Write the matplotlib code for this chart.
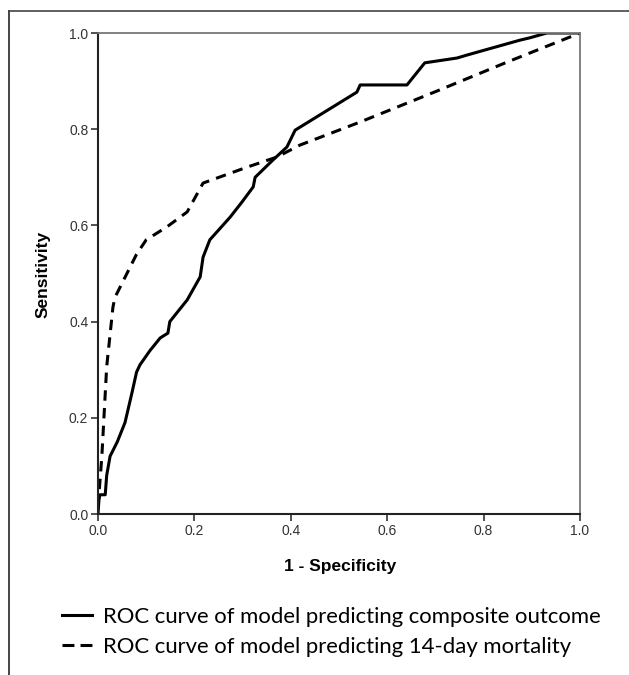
import numpy as np
import matplotlib.pyplot as plt
from matplotlib.lines import Line2D

# ROC curve of model predicting composite outcome
composite_fpr = [0.0, 0.002, 0.004, 0.015, 0.018, 0.025, 0.04, 0.056, 0.063, 0.07,
                 0.08, 0.087, 0.108, 0.129, 0.145, 0.149, 0.185, 0.212, 0.218, 0.232,
                 0.274, 0.299, 0.322, 0.326, 0.363, 0.392, 0.409, 0.537, 0.544, 0.641,
                 0.678, 0.745, 0.765, 0.875, 0.896, 0.931, 1.0]
composite_tpr = [0.0, 0.03, 0.04, 0.04, 0.08, 0.12, 0.15, 0.19, 0.22, 0.25,
                 0.295, 0.31, 0.34, 0.366, 0.376, 0.40, 0.445, 0.493, 0.534, 0.57,
                 0.617, 0.649, 0.68, 0.70, 0.736, 0.763, 0.798, 0.877, 0.892, 0.892,
                 0.938, 0.948, 0.954, 0.985, 0.99, 1.0, 1.0]

# ROC curve of model predicting 14-day mortality
mortality_fpr = [0.0, 0.008, 0.018, 0.031, 0.035, 0.08, 0.10, 0.143, 0.185, 0.218,
                 0.309, 0.371, 0.419, 0.544, 0.70, 0.85, 1.0]
mortality_tpr = [0.015, 0.12, 0.306, 0.43, 0.45, 0.54, 0.57, 0.597, 0.628, 0.688,
                 0.721, 0.742, 0.767, 0.815, 0.878, 0.94, 1.0]

tick_values = [0.0, 0.2, 0.4, 0.6, 0.8, 1.0]
legend_labels = ["ROC curve of model predicting composite outcome",
                 "ROC curve of model predicting 14-day mortality"]

DASHES = (0, (3.4, 2.4))
W, H = 629, 675

fig = plt.figure(figsize=(W / 100, H / 100), dpi=100)
fig.patch.set_facecolor("white")

# Outer frame (top and left edges only, as in the cropped source)
fig.add_artist(Line2D([8.5 / W, 1.0], [1 - 10.5 / H, 1 - 10.5 / H],
                      transform=fig.transFigure, color="#444444", lw=1.2))
fig.add_artist(Line2D([9 / W, 9 / W], [0.0, 1 - 10.5 / H],
                      transform=fig.transFigure, color="#444444", lw=1.4))

ax = fig.add_axes([98 / W, 1 - 514 / H, 482 / W, 481 / H])
ax.plot(composite_fpr, composite_tpr, color="black", lw=2.2, solid_joinstyle="round")
ax.plot(mortality_fpr, mortality_tpr, color="black", lw=2.2, linestyle=DASHES)

ax.set_xlim(0, 1)
ax.set_ylim(0, 1)
ax.set_xticks(tick_values)
ax.set_yticks(tick_values)
ax.set_xticklabels([f"{v:.1f}" for v in tick_values])
ax.set_yticklabels([f"{v:.1f}" for v in tick_values])

for side in ["left", "bottom"]:
    ax.spines[side].set_color("#222222")
    ax.spines[side].set_linewidth(1.5)
for side in ["top", "right"]:
    ax.spines[side].set_color("#777777")
    ax.spines[side].set_linewidth(1.3)

ax.tick_params(direction="out", length=5, width=1.2, color="#333333",
               labelsize=10, labelcolor="#333333", pad=2)
for lab in ax.get_xticklabels() + ax.get_yticklabels():
    lab.set_family("Liberation Sans")

# axis titles placed by pixel position
fig.text(340 / W, 1 - 567 / H, "1 - Specificity", family="Liberation Sans",
         fontweight="bold", fontsize=12.5, ha="center", va="center")
fig.text(43 / W, 1 - 274 / H, "Sensitivity", family="Liberation Sans",
         fontweight="bold", fontsize=12.5, ha="center", va="center", rotation=90)

handles = [Line2D([], [], color="black", lw=2.2),
           Line2D([], [], color="black", lw=2.2, linestyle=(0, (3.9, 2.0)))]
fig.legend(handles, legend_labels, loc="upper left",
           bbox_to_anchor=(51 / W, 1 - 596 / H), borderpad=0.0,
           frameon=False, handlelength=1.36, handletextpad=0.5, labelspacing=0.45,
           prop={"family": "Lato", "size": 15.9})

fig.savefig("out.png", dpi=100)
